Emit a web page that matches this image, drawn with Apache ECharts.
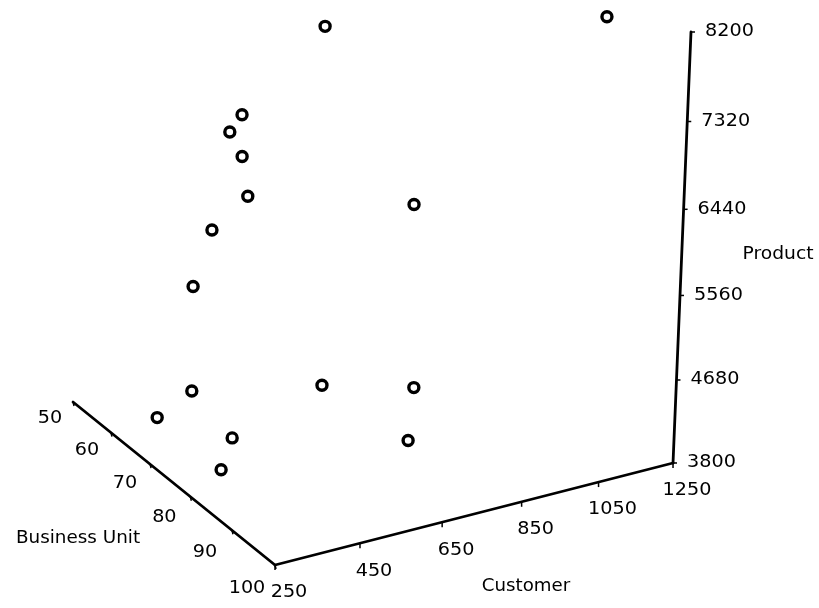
<!DOCTYPE html>
<html><head><meta charset="utf-8">
<script src="https://cdn.jsdelivr.net/npm/echarts@6/dist/echarts.min.js"></script>
<style>html,body{margin:0;padding:0;background:#fff}#c{width:819px;height:608px}</style>
</head><body><div id="c"></div><script>
// ---- data ----
const businessUnit = [81, 91, 85, 80, 88, 85, 80, 75, 82, 77, 69, 80, 85, 85, 83, 90];
const customer     = [562, 1144, 329, 350, 299, 341, 307, 310, 770, 285, 278, 567, 742, 301, 294, 674];
const product      = [8200, 8190, 7620, 7310, 7330, 6840, 6400, 5700, 6350, 4740, 4220, 4630, 4600, 4510, 4130, 4280];
const buTicks       = [50, 60, 70, 80, 90, 100];
const customerTicks = [250, 450, 650, 850, 1050, 1250];
const productTicks  = [3800, 4680, 5560, 6440, 7320, 8200];
const axisNames = ['Business Unit', 'Customer', 'Product'];

// ---- 3D view (perspective camera, layout only) ----
const buMin = buTicks[0], buMax = buTicks[buTicks.length - 1];
const cMin = customerTicks[0], cMax = customerTicks[customerTicks.length - 1];
const pMin = productTicks[0], pMax = productTicks[productTicks.length - 1];
function proj(bu, c, p) {
  const u = (buMax - bu) / (buMax - buMin);
  const v = (c - cMin) / (cMax - cMin);
  const t = (p - pMin) / (pMax - pMin);
  const X = 275 - 196.0 * u + 455.9 * v - 15.1 * t;
  const Y = 565 - 130.0 * u - 62.2 * v - 469.65 * t;
  const W = 1 + 0.082 * u + 0.086 * v - 0.0501 * t;
  return [X / W, Y / W];
}
const FONT = '17px "DejaVu Sans", sans-serif';
function txt(x, y, s, align, sx) {
  return { type: 'text', x: x, y: y, scaleX: sx,
    style: { text: s, font: FONT, fill: '#000', textAlign: align, textVerticalAlign: 'middle', align: align, verticalAlign: 'middle' } };
}

const tickData = [];
buTicks.forEach(v => tickData.push([0, v]));
customerTicks.forEach(v => tickData.push([1, v]));
productTicks.forEach(v => tickData.push([2, v]));

function renderTick(params, api) {
  const ax = api.value(0), val = api.value(1);
  let p, d, lp, align;
  if (ax === 0) {
    p = proj(val, cMin, pMin);
    const s = (val - buMin) / (buMax - buMin);
    d = [1, 4];
    lp = [p[0] - 23 - 5 * s, p[1] + 17 + 7 * s]; align = 'center';
  } else if (ax === 1) {
    p = proj(buMax, val, pMin);
    d = [0, 5];
    lp = [p[0] + 14, p[1] + 28]; align = 'center';
  } else {
    p = proj(buMax, cMax, val);
    d = [4, 0];
    lp = [p[0] + 14, p[1]]; align = 'left';
  }
  return { type: 'group', children: [
    { type: 'line', shape: { x1: p[0], y1: p[1], x2: p[0] + d[0], y2: p[1] + d[1] }, style: { stroke: '#000', lineWidth: 1.5 } },
    txt(lp[0], lp[1], String(val), align, 1.13)
  ]};
}

function renderAxis(params, api) {
  const ax = api.value(0);
  let a, b;
  if (ax === 0) { a = proj(buMin, cMin, pMin); b = proj(buMax, cMin, pMin); }
  else if (ax === 1) { a = proj(buMax, cMin, pMin); b = proj(buMax, cMax, pMin); }
  else { a = proj(buMax, cMax, pMin); b = proj(buMax, cMax, pMax); }
  return { type: 'line', shape: { x1: a[0], y1: a[1], x2: b[0], y2: b[1] }, style: { stroke: '#000', lineWidth: 2.8, lineCap: 'round' } };
}

function renderPoint(params, api) {
  const p = proj(api.value(0), api.value(1), api.value(2));
  return { type: 'circle', shape: { cx: p[0], cy: p[1], r: 5 }, style: { fill: '#fff', stroke: '#000', lineWidth: 3.4 } };
}

const points = businessUnit.map((b, i) => [b, customer[i], product[i]]);

const chart = echarts.init(document.getElementById('c'));
chart.setOption({
  backgroundColor: '#fff',
  animation: false,
  graphic: [
    txt(78, 539, axisNames[0], 'center', 1.08),
    txt(526, 587, axisNames[1], 'center', 1.07),
    txt(778, 255, axisNames[2], 'center', 1.1)
  ],
  series: [
    { type: 'custom', coordinateSystem: 'none', silent: true, data: [[0], [1], [2]], renderItem: renderAxis, z: 1 },
    { type: 'custom', coordinateSystem: 'none', silent: true, data: tickData, renderItem: renderTick, z: 2 },
    { type: 'custom', coordinateSystem: 'none', silent: true, data: points, renderItem: renderPoint, z: 3 }
  ]
});
</script></body></html>
